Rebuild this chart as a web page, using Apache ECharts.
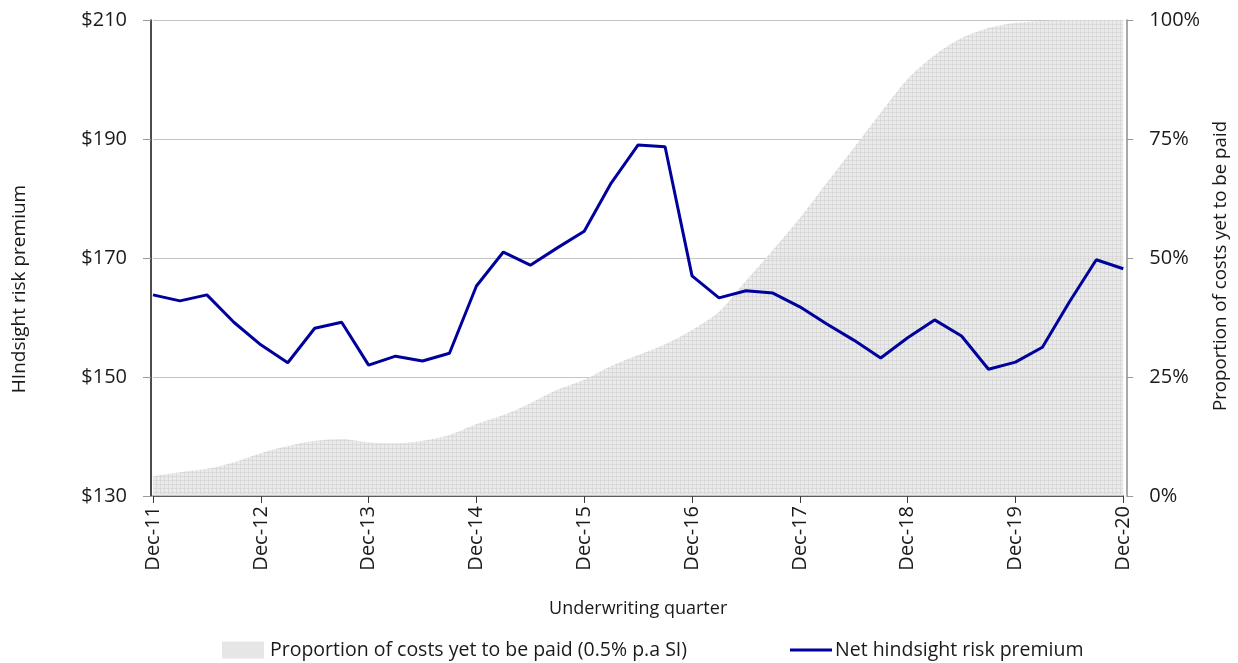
<!DOCTYPE html>
<html>
<head>
<meta charset="utf-8">
<script src="https://cdn.jsdelivr.net/npm/echarts@6/dist/echarts.min.js"></script>
<style>
  html, body { margin: 0; padding: 0; background: #ffffff; }
  #chart { width: 1238px; height: 663px; }
</style>
</head>
<body>
<div id="chart"></div>
<script>
// Underwriting quarters, Dec-11 .. Dec-20
const quarters = [
  'Dec-11','Mar-12','Jun-12','Sep-12','Dec-12','Mar-13','Jun-13','Sep-13',
  'Dec-13','Mar-14','Jun-14','Sep-14','Dec-14','Mar-15','Jun-15','Sep-15',
  'Dec-15','Mar-16','Jun-16','Sep-16','Dec-16','Mar-17','Jun-17','Sep-17',
  'Dec-17','Mar-18','Jun-18','Sep-18','Dec-18','Mar-19','Jun-19','Sep-19',
  'Dec-19','Mar-20','Jun-20','Sep-20','Dec-20'
];

// Net hindsight risk premium ($)
const riskPremium = [
  163.8, 162.8, 163.8, 159.2, 155.4, 152.4, 158.2, 159.2,
  152.0, 153.5, 152.7, 154.0, 165.3, 171.0, 168.8, 171.7,
  174.5, 182.6, 189.0, 188.7, 167.0, 163.3, 164.5, 164.1,
  161.8, 158.9, 156.2, 153.2, 156.6, 159.6, 156.9, 151.3,
  152.5, 155.0, 162.6, 169.7, 168.2
];

// Proportion of costs yet to be paid (0.5% p.a SI)
const yetToBePaid = [
  0.042, 0.050, 0.057, 0.071, 0.090, 0.105, 0.116, 0.120,
  0.113, 0.111, 0.116, 0.128, 0.151, 0.170, 0.195, 0.223,
  0.244, 0.273, 0.296, 0.319, 0.349, 0.387, 0.452, 0.517,
  0.584, 0.658, 0.731, 0.805, 0.876, 0.926, 0.962, 0.983,
  0.994, 0.998, 1.000, 1.000, 1.000
];

const premiumTicks = { min: 130, max: 210, interval: 20 };
const shareTicks = { min: 0, max: 1, interval: 0.25 };

const FONT = '"Open Sans", "Liberation Sans", sans-serif';
const TEXT = '#1a1a1a';

// Fine cross-hatched light grey fill for the area
function hatchPattern() {
  const c = document.createElement('canvas');
  c.width = 4; c.height = 4;
  const g = c.getContext('2d');
  g.fillStyle = 'rgba(226,226,226,0.72)';
  g.fillRect(0, 0, 4, 4);
  g.fillStyle = 'rgba(214,214,214,0.72)';
  g.fillRect(0, 0, 4, 1);
  g.fillRect(0, 0, 1, 4);
  g.fillStyle = 'rgba(238,238,238,0.72)';
  g.fillRect(2, 2, 1, 1);
  return c;
}

const chart = echarts.init(document.getElementById('chart'), null, { renderer: 'canvas' });

chart.setOption({
  animation: false,
  backgroundColor: '#ffffff',
  textStyle: { fontFamily: FONT },
  grid: { left: 153, right: 113, top: 20, bottom: 167, containLabel: false },
  legend: [
    {
      left: 222, top: 640, padding: 0,
      itemWidth: 42, itemHeight: 17, itemGap: 0,
      textStyle: { fontFamily: FONT, fontSize: 19.5, color: TEXT, padding: [0, 0, 0, 1] },
      data: [{ name: 'Proportion of costs yet to be paid (0.5% p.a SI)', icon: 'rect',
               itemStyle: { color: '#e6e6e6' } }]
    },
    {
      left: 790, top: 640, padding: 0,
      itemWidth: 42, itemHeight: 17, itemGap: 0,
      textStyle: { fontFamily: FONT, fontSize: 19.5, color: TEXT, padding: [0, 0, 0, -2] },
      data: [{ name: 'Net hindsight risk premium', icon: 'path://M0,7 L42,7 L42,10 L0,10 Z',
               itemStyle: { color: '#00009c' } }]
    }
  ],
  xAxis: {
    type: 'category',
    data: quarters,
    boundaryGap: false,
    name: 'Underwriting quarter',
    nameLocation: 'middle',
    nameGap: 104,
    nameTextStyle: { fontFamily: FONT, fontSize: 18, color: TEXT },
    axisLine: { show: true, lineStyle: { color: '#3a3a3a', width: 1.5 } },
    axisTick: { show: true, interval: 3, length: 7, lineStyle: { color: '#3a3a3a' } },
    axisLabel: {
      interval: 3, rotate: 90, margin: 10,
      fontFamily: FONT, fontSize: 20, color: TEXT
    },
    splitLine: { show: false }
  },
  yAxis: [
    {
      type: 'value',
      min: premiumTicks.min, max: premiumTicks.max, interval: premiumTicks.interval,
      offset: 2,
      name: 'HIndsight risk premium',
      nameLocation: 'middle',
      nameGap: 122,
      nameRotate: 90,
      nameTextStyle: { fontFamily: FONT, fontSize: 19, color: TEXT, padding: [0, 62, 0, 0] },
      axisLine: { show: true, lineStyle: { color: '#111111', width: 1.5 } },
      axisTick: { show: true, length: 8, lineStyle: { color: '#999999' } },
      axisLabel: {
        margin: 24, fontFamily: FONT, fontSize: 20, color: TEXT,
        formatter: v => '$' + v
      },
      splitLine: { show: true, lineStyle: { color: '#c4c4c4', width: 1 } }
    },
    {
      type: 'value',
      min: shareTicks.min, max: shareTicks.max, interval: shareTicks.interval,
      offset: 3,
      position: 'right',
      name: 'Proportion of costs yet to be paid',
      nameLocation: 'middle',
      nameGap: 84,
      nameRotate: 90,
      nameTextStyle: { fontFamily: FONT, fontSize: 18.7, color: TEXT, padding: [0, 16, 0, 0] },
      axisLine: { show: true, lineStyle: { color: '#8c8c8c', width: 1.5 } },
      axisTick: { show: true, length: 7, lineStyle: { color: '#999999' } },
      axisLabel: {
        margin: 23, fontFamily: FONT, fontSize: 20, color: TEXT,
        formatter: v => Math.round(v * 100) + '%'
      },
      splitLine: { show: false }
    }
  ],
  series: [
    {
      name: 'Proportion of costs yet to be paid (0.5% p.a SI)',
      type: 'line',
      yAxisIndex: 1,
      data: yetToBePaid,
      smooth: 0.3,
      showSymbol: false,
      lineStyle: { width: 0, color: '#e6e6e6' },
      itemStyle: { color: '#e6e6e6' },
      areaStyle: { color: { image: hatchPattern(), repeat: 'repeat' }, opacity: 1 },
      z: 1
    },
    {
      name: 'Net hindsight risk premium',
      type: 'line',
      yAxisIndex: 0,
      data: riskPremium,
      showSymbol: false,
      lineStyle: { width: 3, color: '#00009c' },
      itemStyle: { color: '#00009c' },
      z: 3
    }
  ]
});
</script>
</body>
</html>
